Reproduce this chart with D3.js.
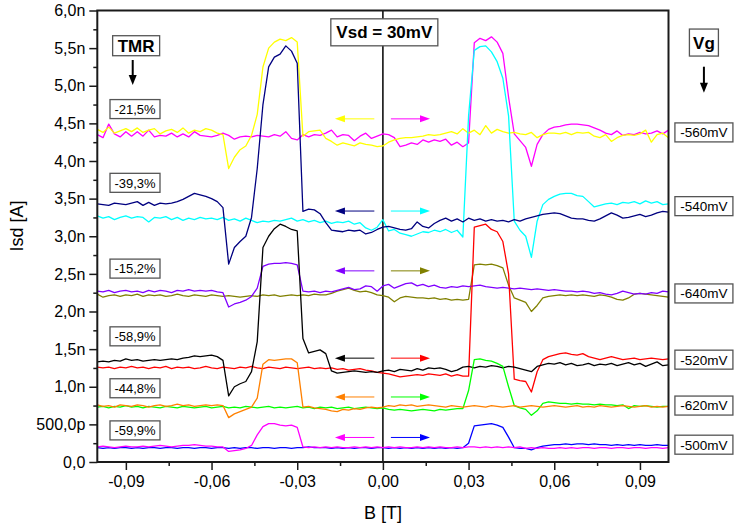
<!DOCTYPE html>
<html>
<head>
<meta charset="utf-8">
<script src="https://cdn.jsdelivr.net/npm/d3@7"></script>
<style>
  body { margin: 0; background: #fff; }
  svg { display: block; }
  text { font-family: "Liberation Sans", Arial, Helvetica, sans-serif; fill: #000; }
</style>
</head>
<body>
<svg id="chart" width="737" height="526"></svg>
<script>
// Magnetic field sweep (T)
const fieldT = [
  -0.100,-0.098,-0.096,-0.094,-0.092,-0.090,-0.088,-0.086,-0.084,-0.082,
  -0.080,-0.078,-0.076,-0.074,-0.072,-0.070,-0.068,-0.066,-0.064,-0.062,
  -0.060,-0.058,-0.056,-0.054,-0.052,-0.050,-0.048,-0.046,-0.044,-0.042,
  -0.040,-0.038,-0.036,-0.034,-0.032,-0.030,-0.028,-0.026,-0.024,-0.022,
  -0.020,-0.018,-0.016,-0.014,-0.012,-0.010,-0.008,-0.006,-0.004,-0.002,
   0.000, 0.002, 0.004, 0.006, 0.008, 0.010, 0.012, 0.014, 0.016, 0.018,
   0.020, 0.022, 0.024, 0.026, 0.028, 0.030, 0.032, 0.034, 0.036, 0.038,
   0.040, 0.042, 0.044, 0.046, 0.048, 0.050, 0.052, 0.054, 0.056, 0.058,
   0.060, 0.062, 0.064, 0.066, 0.068, 0.070, 0.072, 0.074, 0.076, 0.078,
   0.080, 0.082, 0.084, 0.086, 0.088, 0.090, 0.092, 0.094, 0.096, 0.098, 0.100
];

// Source-drain current Isd (nA), one array per sweep
// Vg = -560 mV
const isd560Down = [
  4.42,4.38,4.45,4.37,4.40,4.43,4.39,4.44,4.38,4.41,
  4.43,4.36,4.40,4.42,4.38,4.44,4.37,4.41,4.39,4.43,
  4.41,4.37,4.35,3.90,4.05,4.15,4.20,4.34,4.62,5.25,
  5.50,5.58,5.62,5.60,5.64,5.58,4.33,4.39,4.40,4.41,
  4.30,4.26,4.21,4.24,4.22,4.20,4.24,4.22,4.21,4.19,
  4.20,4.25,4.28,4.30,4.31,4.31,4.32,4.33,4.35,4.34,
  4.35,4.37,4.39,4.36,4.43,4.37,4.41,4.35,4.47,4.37,
  4.42,4.39,4.37,4.38,4.36,4.35,4.38,4.31,4.35,4.37,
  4.37,4.36,4.38,4.35,4.38,4.37,4.38,4.33,4.31,4.35,
  4.26,4.31,4.34,4.35,4.34,4.36,4.41,4.25,4.35,4.37,4.31
];
const isd560Up = [
  4.35,4.31,4.49,4.36,4.32,4.39,4.33,4.39,4.33,4.41,
  4.32,4.34,4.33,4.37,4.32,4.36,4.32,4.39,4.34,4.33,
  4.32,4.34,4.37,4.34,4.29,4.32,4.33,4.32,4.34,4.33,
  4.32,4.35,4.33,4.39,4.30,4.28,4.35,4.32,4.35,4.34,
  4.37,4.41,4.32,4.35,4.34,4.27,4.33,4.37,4.30,4.33,
  4.36,4.35,4.31,4.19,4.21,4.24,4.22,4.28,4.25,4.28,
  4.26,4.29,4.21,4.25,4.19,4.24,5.57,5.63,5.60,5.65,
  5.58,5.43,4.85,4.36,4.27,4.18,3.93,4.22,4.35,4.42,
  4.45,4.46,4.48,4.49,4.49,4.48,4.47,4.44,4.41,4.37,
  4.35,4.40,4.34,4.36,4.35,4.38,4.36,4.37,4.40,4.36,4.41
];
// Vg = -540 mV
const isd540Down = [
  3.43,3.42,3.41,3.44,3.43,3.42,3.44,3.46,3.41,3.45,
  3.41,3.44,3.43,3.44,3.46,3.49,3.53,3.57,3.55,3.53,
  3.50,3.46,3.38,2.63,2.85,2.93,3.00,3.25,3.90,4.75,
  5.25,5.38,5.42,5.53,5.46,5.30,3.33,3.36,3.35,3.30,
  3.18,3.08,3.07,3.06,3.08,3.07,3.08,3.03,3.05,3.09,
  3.12,3.13,3.11,3.09,3.08,3.10,3.19,3.13,3.11,3.17,
  3.21,3.24,3.20,3.23,3.19,3.24,3.21,3.23,3.20,3.22,
  3.20,3.21,3.19,3.22,3.20,3.23,3.25,3.27,3.29,3.30,
  3.31,3.30,3.27,3.24,3.23,3.23,3.21,3.20,3.23,3.27,
  3.31,3.28,3.24,3.25,3.27,3.29,3.26,3.28,3.31,3.33,3.32
];
const isd540Up = [
  3.27,3.24,3.26,3.22,3.25,3.27,3.24,3.26,3.25,3.19,
  3.25,3.24,3.26,3.22,3.25,3.21,3.24,3.22,3.25,3.23,
  3.24,3.22,3.25,3.21,3.23,3.20,3.24,3.21,3.18,3.20,
  3.19,3.21,3.20,3.22,3.24,3.20,3.22,3.19,3.21,3.18,
  3.20,3.17,3.19,3.18,3.20,3.16,3.18,3.11,3.08,3.12,
  3.22,3.07,3.09,3.04,3.02,3.00,3.03,3.06,3.05,3.08,
  3.06,3.09,3.05,3.08,2.99,4.60,5.47,5.52,5.53,5.45,
  5.32,5.10,4.60,3.20,3.08,3.00,2.72,3.20,3.42,3.49,
  3.53,3.56,3.57,3.57,3.54,3.53,3.46,3.39,3.41,3.43,
  3.44,3.42,3.45,3.44,3.46,3.43,3.47,3.44,3.46,3.42,3.43
];
// Vg = -640 mV
const isd640Down = [
  2.27,2.26,2.28,2.25,2.27,2.28,2.26,2.27,2.25,2.28,
  2.26,2.28,2.27,2.25,2.28,2.27,2.29,2.27,2.28,2.27,
  2.28,2.26,2.25,2.06,2.10,2.12,2.15,2.20,2.31,2.60,
  2.63,2.64,2.64,2.65,2.64,2.62,2.27,2.26,2.27,2.25,
  2.27,2.26,2.28,2.30,2.32,2.29,2.30,2.34,2.33,2.27,
  2.34,2.36,2.31,2.34,2.37,2.38,2.34,2.36,2.33,2.35,
  2.32,2.31,2.33,2.32,2.34,2.33,2.34,2.35,2.33,2.32,
  2.31,2.32,2.31,2.30,2.31,2.30,2.29,2.30,2.29,2.28,
  2.29,2.28,2.27,2.27,2.26,2.27,2.26,2.24,2.25,2.23,
  2.22,2.24,2.27,2.25,2.23,2.24,2.23,2.25,2.24,2.27,2.26
];
const isd640Up = [
  2.23,2.19,2.21,2.22,2.20,2.22,2.21,2.23,2.20,2.22,
  2.21,2.22,2.20,2.21,2.23,2.21,2.20,2.22,2.21,2.20,
  2.22,2.21,2.20,2.21,2.20,2.19,2.20,2.21,2.20,2.22,
  2.21,2.22,2.20,2.21,2.22,2.21,2.22,2.21,2.23,2.22,
  2.22,2.24,2.27,2.29,2.31,2.28,2.26,2.27,2.25,2.22,
  2.21,2.19,2.13,2.18,2.20,2.19,2.18,2.18,2.17,2.18,
  2.16,2.17,2.15,2.16,2.15,2.16,2.62,2.63,2.62,2.63,
  2.61,2.58,2.35,2.18,2.15,2.12,2.00,2.08,2.18,2.20,
  2.21,2.22,2.21,2.22,2.21,2.22,2.21,2.20,2.22,2.21,
  2.19,2.16,2.15,2.18,2.23,2.24,2.23,2.22,2.21,2.20,2.19
];
// Vg = -520 mV
const isd520Down = [
  1.33,1.34,1.33,1.35,1.34,1.37,1.35,1.36,1.34,1.35,
  1.36,1.35,1.36,1.37,1.36,1.38,1.39,1.41,1.40,1.41,
  1.42,1.40,1.35,0.88,1.00,1.04,1.07,1.20,1.60,2.85,
  3.00,3.10,3.16,3.13,3.09,3.07,1.64,1.45,1.47,1.49,
  1.44,1.21,1.18,1.19,1.20,1.21,1.20,1.19,1.20,1.19,
  1.21,1.22,1.20,1.23,1.22,1.21,1.24,1.22,1.25,1.24,
  1.25,1.23,1.20,1.22,1.26,1.27,1.25,1.27,1.26,1.28,
  1.27,1.25,1.27,1.26,1.24,1.22,1.20,1.27,1.29,1.31,
  1.30,1.32,1.29,1.31,1.28,1.29,1.31,1.28,1.30,1.29,
  1.31,1.28,1.30,1.32,1.29,1.31,1.27,1.30,1.33,1.28,1.29
];
const isd520Up = [
  1.26,1.25,1.26,1.24,1.26,1.25,1.27,1.25,1.26,1.24,
  1.26,1.25,1.27,1.24,1.26,1.25,1.26,1.24,1.25,1.27,
  1.25,1.24,1.26,1.25,1.24,1.26,1.25,1.27,1.25,1.24,
  1.26,1.25,1.24,1.26,1.25,1.24,1.25,1.26,1.24,1.25,
  1.24,1.25,1.23,1.24,1.22,1.23,1.24,1.22,1.21,1.19,
  1.18,1.17,1.15,1.13,1.14,1.15,1.16,1.15,1.17,1.16,
  1.15,1.17,1.14,1.16,1.14,1.14,3.12,3.14,3.16,3.09,
  3.06,2.93,2.50,1.10,1.08,1.07,0.93,1.20,1.36,1.40,
  1.42,1.44,1.45,1.43,1.42,1.44,1.40,1.38,1.36,1.38,
  1.40,1.38,1.36,1.37,1.38,1.36,1.37,1.38,1.37,1.36,1.37
];
// Vg = -620 mV
const isd620Down = [
  0.76,0.74,0.75,0.73,0.76,0.75,0.74,0.76,0.75,0.73,
  0.75,0.76,0.74,0.75,0.77,0.75,0.76,0.74,0.75,0.76,
  0.75,0.76,0.75,0.59,0.64,0.67,0.70,0.73,0.85,1.30,
  1.36,1.35,1.36,1.37,1.37,1.32,0.73,0.74,0.72,0.71,
  0.70,0.68,0.67,0.70,0.69,0.71,0.70,0.72,0.73,0.72,
  0.73,0.75,0.74,0.76,0.75,0.76,0.74,0.75,0.76,0.75,
  0.74,0.73,0.75,0.74,0.73,0.74,0.75,0.74,0.73,0.75,
  0.74,0.73,0.74,0.75,0.73,0.74,0.75,0.74,0.73,0.74,
  0.75,0.74,0.73,0.74,0.75,0.73,0.74,0.73,0.75,0.74,
  0.73,0.74,0.75,0.74,0.73,0.74,0.75,0.73,0.74,0.73,0.74
];
const isd620Up = [
  0.73,0.74,0.72,0.74,0.73,0.75,0.73,0.74,0.72,0.74,
  0.73,0.72,0.74,0.73,0.72,0.74,0.73,0.72,0.73,0.74,
  0.72,0.73,0.74,0.72,0.73,0.72,0.74,0.73,0.72,0.73,
  0.74,0.72,0.73,0.72,0.73,0.74,0.72,0.73,0.71,0.73,
  0.72,0.73,0.71,0.72,0.73,0.71,0.72,0.73,0.72,0.71,
  0.72,0.70,0.69,0.70,0.69,0.68,0.69,0.70,0.69,0.68,
  0.70,0.69,0.70,0.71,0.71,0.95,1.36,1.37,1.35,1.34,
  1.31,1.27,1.00,0.75,0.72,0.70,0.62,0.68,0.78,0.80,
  0.79,0.78,0.78,0.77,0.78,0.77,0.77,0.76,0.77,0.76,
  0.76,0.75,0.76,0.71,0.75,0.74,0.75,0.74,0.73,0.74,0.74
];
// Vg = -500 mV
const isd500Down = [
  0.20,0.21,0.20,0.19,0.20,0.21,0.20,0.20,0.21,0.20,
  0.21,0.22,0.21,0.20,0.21,0.22,0.22,0.23,0.22,0.21,
  0.21,0.20,0.20,0.14,0.15,0.16,0.18,0.22,0.36,0.47,
  0.51,0.51,0.49,0.48,0.49,0.46,0.20,0.19,0.20,0.19,
  0.20,0.19,0.20,0.19,0.19,0.20,0.19,0.20,0.19,0.20,
  0.19,0.20,0.19,0.20,0.19,0.19,0.20,0.19,0.20,0.19,
  0.20,0.19,0.19,0.20,0.19,0.20,0.20,0.19,0.20,0.19,
  0.20,0.19,0.20,0.19,0.20,0.18,0.19,0.18,0.19,0.18,
  0.18,0.19,0.18,0.19,0.18,0.19,0.19,0.18,0.19,0.19,
  0.18,0.19,0.19,0.18,0.19,0.19,0.18,0.19,0.19,0.18,0.19
];
const isd500Up = [
  0.19,0.18,0.19,0.18,0.19,0.19,0.18,0.19,0.18,0.19,
  0.19,0.18,0.19,0.19,0.18,0.19,0.19,0.18,0.19,0.19,
  0.18,0.19,0.19,0.18,0.19,0.18,0.19,0.19,0.18,0.19,
  0.19,0.18,0.19,0.19,0.18,0.19,0.19,0.20,0.19,0.19,
  0.19,0.18,0.19,0.18,0.19,0.18,0.19,0.19,0.18,0.19,
  0.19,0.18,0.19,0.18,0.19,0.18,0.19,0.18,0.19,0.18,
  0.19,0.18,0.19,0.18,0.19,0.25,0.48,0.49,0.50,0.51,
  0.49,0.46,0.33,0.19,0.18,0.18,0.16,0.19,0.21,0.22,
  0.23,0.23,0.24,0.23,0.24,0.24,0.23,0.24,0.23,0.23,
  0.22,0.23,0.22,0.23,0.22,0.23,0.22,0.22,0.23,0.22,0.22
];

// Annotation texts
const tmrLabels = ["-21,5%", "-39,3%", "-15,2%", "-58,9%", "-44,8%", "-59,9%"];
const gateLabels = ["-560mV", "-540mV", "-640mV", "-520mV", "-620mV", "-500mV"];
const yTickValues = [0, 0.5, 1, 1.5, 2, 2.5, 3, 3.5, 4, 4.5, 5, 5.5, 6];
const xTickValues = [-0.09, -0.06, -0.03, 0, 0.03, 0.06, 0.09];

// Layout: where the annotation boxes and sweep arrows sit (in nA / T)
const tmrLevels = [4.69, 3.71, 2.57, 1.67, 0.98, 0.42];
const gateLevels = [4.38, 3.40, 2.24, 1.36, 0.75, 0.23];
const arrowLevels = [4.56, 3.335, 2.54, 1.38, 0.864, 0.326];

// Sweep pairs: down-sweep (arrow to the left) and up-sweep (arrow to the right)
const pairs = [
  { down: isd560Down, up: isd560Up, downColor: "#ffff00", upColor: "#ff00ff" },
  { down: isd540Down, up: isd540Up, downColor: "#000080", upColor: "#00ffff" },
  { down: isd640Down, up: isd640Up, downColor: "#8000ff", upColor: "#808000" },
  { down: isd520Down, up: isd520Up, downColor: "#000000", upColor: "#ff0000" },
  { down: isd620Down, up: isd620Up, downColor: "#ff8000", upColor: "#00ff00" },
  { down: isd500Down, up: isd500Up, downColor: "#ff00ff", upColor: "#0000ff" }
];

const W = 737, H = 526;
const margin = { top: 10.5, right: 68.5, bottom: 64, left: 97.3 };

const svg = d3.select("#chart");

const x = d3.scaleLinear().domain([-0.1, 0.1]).range([margin.left, W - margin.right]);
const y = d3.scaleLinear().domain([0, 6]).range([H - margin.bottom, margin.top]);

svg.append("defs").append("clipPath").attr("id", "plotClip")
  .append("rect")
  .attr("x", x(-0.1)).attr("y", y(6))
  .attr("width", x(0.1) - x(-0.1)).attr("height", y(0) - y(6));

// Zero-field guide line
svg.append("line")
  .attr("x1", x(0)).attr("x2", x(0))
  .attr("y1", y(6)).attr("y2", y(0))
  .attr("stroke", "#000").attr("stroke-width", 1.5);

// Curves
const line = d3.line()
  .x((d, i) => x(fieldT[i]))
  .y(d => y(d));

const curves = svg.append("g").attr("clip-path", "url(#plotClip)");
pairs.forEach(p => {
  curves.append("path").datum(p.up)
    .attr("d", line).attr("fill", "none")
    .attr("stroke", p.upColor).attr("stroke-width", 1.3)
    .attr("stroke-linejoin", "round");
  curves.append("path").datum(p.down)
    .attr("d", line).attr("fill", "none")
    .attr("stroke", p.downColor).attr("stroke-width", 1.3)
    .attr("stroke-linejoin", "round");
});

// Arrow helper: shaft plus filled triangular head
function arrow(g, x1, y1, x2, y2, color, headLen, headHalf, width) {
  const dx = x2 - x1, dy = y2 - y1;
  const len = Math.hypot(dx, dy);
  const ux = dx / len, uy = dy / len;
  const bx = x2 - ux * headLen, by = y2 - uy * headLen;
  g.append("line")
    .attr("x1", x1).attr("y1", y1).attr("x2", bx + ux).attr("y2", by + uy)
    .attr("stroke", color).attr("stroke-width", width);
  g.append("path")
    .attr("d", `M${x2},${y2}L${bx - uy * headHalf},${by + ux * headHalf}L${bx + uy * headHalf},${by - ux * headHalf}Z`)
    .attr("fill", color);
}

// Sweep-direction arrows
const arrows = svg.append("g");
pairs.forEach((p, k) => {
  const ay = y(arrowLevels[k]);
  arrow(arrows, x(-0.003), ay, x(-0.0168), ay, p.downColor, 10, 3.5, 1);
  arrow(arrows, x(0.0028), ay, x(0.0165), ay, p.upColor, 10, 3.5, 1);
});

// Frame
svg.append("rect")
  .attr("x", x(-0.1)).attr("y", y(6))
  .attr("width", x(0.1) - x(-0.1)).attr("height", y(0) - y(6))
  .attr("fill", "none").attr("stroke", "#1a1a1a").attr("stroke-width", 2);

// Axes
const fmtY = v => v === 0 ? "0,0" : (v < 1 ? (v * 1000).toFixed(1).replace(".", ",") + "p" : v.toFixed(1).replace(".", ",") + "n");
const fmtX = v => (v < -1e-9 ? "-" : "") + Math.abs(v).toFixed(2).replace(".", ",");

const yAxis = svg.append("g").attr("transform", `translate(${x(-0.1)},0)`)
  .call(d3.axisLeft(y).tickValues(yTickValues).tickFormat(fmtY).tickSize(8).tickPadding(4));
const yMinor = svg.append("g").attr("transform", `translate(${x(-0.1)},0)`)
  .call(d3.axisLeft(y).tickValues(d3.range(0.25, 6, 0.5)).tickFormat("").tickSize(4));

const xAxis = svg.append("g").attr("transform", `translate(0,${y(0)})`)
  .call(d3.axisBottom(x).tickValues(xTickValues).tickFormat(fmtX).tickSize(8).tickPadding(6));
const xMinor = svg.append("g").attr("transform", `translate(0,${y(0)})`)
  .call(d3.axisBottom(x).tickValues([-0.075, -0.045, -0.015, 0.015, 0.045, 0.075]).tickFormat("").tickSize(4));

[yAxis, yMinor, xAxis, xMinor].forEach(a => {
  a.select(".domain").remove();
  a.selectAll(".tick line").attr("stroke", "#1a1a1a").attr("stroke-width", 1.5);
  a.selectAll("text").attr("font-size", 16).attr("font-family", "\"Liberation Sans\", Arial, sans-serif").attr("fill", "#000");
});

// Axis titles
svg.append("text")
  .attr("transform", `translate(23,${226}) rotate(-90)`)
  .attr("text-anchor", "middle").attr("font-size", 18)
  .text("Isd [A]");
svg.append("text")
  .attr("x", x(0)).attr("y", 519)
  .attr("text-anchor", "middle").attr("font-size", 18)
  .text("B [T]");

// Boxed labels
function boxLabel(cx, cy, w, h, label, size, bold) {
  const g = svg.append("g");
  g.append("rect")
    .attr("x", cx - w / 2).attr("y", cy - h / 2).attr("width", w).attr("height", h)
    .attr("fill", "#fff").attr("stroke", "#555").attr("stroke-width", 1.3);
  g.append("text")
    .attr("x", cx).attr("y", cy).attr("dy", "0.36em")
    .attr("text-anchor", "middle").attr("font-size", size)
    .attr("font-weight", bold ? "bold" : "normal")
    .text(label);
}

const tmrX = x(-0.0868);
const gateX = x(0.1124);
tmrLabels.forEach((t, k) => boxLabel(tmrX, y(tmrLevels[k]), 50, 19, t, 13, false));
gateLabels.forEach((t, k) => boxLabel(gateX, y(gateLevels[k]), 58, 19, t, 13.5, false));

// Column headings and the bias note
boxLabel(x(-0.0864), y(5.532), 47, 20, "TMR", 17, true);
boxLabel(gateX, y(5.574), 29, 27, "Vg", 17, true);
boxLabel(x(0.0005), y(5.71), 107, 27, "Vsd = 30mV", 17, true);

// Black pointer arrows under the column headings
arrow(svg, x(-0.0876), y(5.342), x(-0.0876), y(5.01), "#000", 10, 4, 2);
arrow(svg, gateX, y(5.253), gateX, y(4.908), "#000", 10, 4, 2);
</script>
</body>
</html>
